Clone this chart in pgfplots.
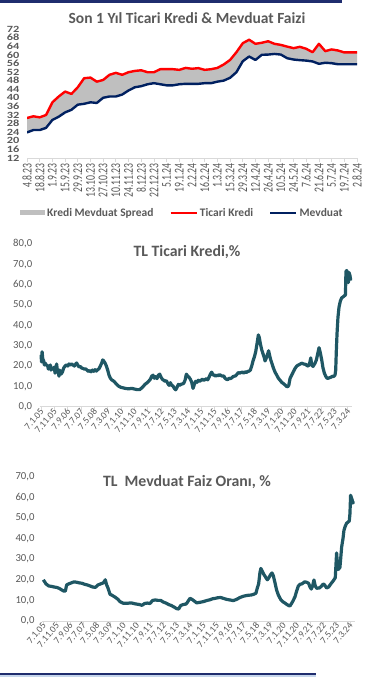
\documentclass[border=0pt]{standalone}
\usepackage{pgfplots}
\pgfplotsset{compat=1.18}
\usepackage{pgfplotstable}
\usepgfplotslibrary{fillbetween}
\usepackage{fontspec}
\setmainfont{Carlito}
\newfontfamily\wideCal[FakeStretch=1.3]{Carlito}
\newfontfamily\narrowCal[FakeStretch=0.72]{Carlito}
\definecolor{txt}{HTML}{595959}
\definecolor{tkred}{HTML}{FF0000}
\definecolor{navy}{HTML}{002060}
\definecolor{spread}{HTML}{BFBFBF}
\definecolor{tealline}{HTML}{1F5764}
\definecolor{axgray}{HTML}{D9D9D9}
\definecolor{barnavy}{HTML}{1F2D6E}
\definecolor{barlight}{HTML}{C6D6EC}

\pgfplotstableread{
i red blue
0 30.6 23.9
1 31.4 25.0
2 30.9 25.0
3 32.0 26.0
4 37.9 29.7
5 40.6 31.2
6 42.9 33.2
7 41.8 34.4
8 44.9 36.8
9 49.1 37.2
10 49.4 37.9
11 47.5 37.6
12 48.3 40.0
13 50.7 40.6
14 51.6 40.6
15 50.7 41.5
16 51.9 43.4
17 52.5 44.9
18 52.8 45.4
19 51.9 46.3
20 51.9 46.8
21 53.3 46.3
22 53.3 45.8
23 53.3 45.8
24 53.0 46.3
25 53.9 46.5
26 53.5 46.5
27 53.8 46.5
28 53.0 46.8
29 53.3 46.8
30 53.9 47.5
31 55.5 48.0
32 57.6 49.3
33 61.2 51.9
34 65.4 57.0
35 67.0 59.2
36 65.1 57.6
37 65.6 60.0
38 66.3 60.1
39 65.1 60.4
40 64.6 60.1
41 63.8 58.4
42 63.1 57.8
43 63.7 57.5
44 62.8 57.3
45 61.2 56.9
46 65.1 55.8
47 61.7 56.3
48 62.5 56.1
49 62.0 55.6
50 61.1 55.6
51 61.1 55.6
52 61.1 55.6
}\ratesA

\pgfplotstableread{
m v
0 25.5
0.4 22
0.8 27
1.3 23.5
2 22.5
2.5 20.5
3 21.5
4 20.5
5 20
5.5 18.5
6 19.5
7 20.5
7.5 18
8 19
9 18.5
10 19.5
10.5 16.5
11 18
11.7 21
12.3 17.5
13 16.5
13.5 15
14 18
15 16
16 17
17 19
18 20
19 20.5
20 20
21 21
22 20.5
23 21
24 20.5
25 20
26 21
26.7 21.5
27.5 20.5
28.5 19.5
29.5 19.8
30.5 19
31.5 18.8
32.5 18.5
33.5 18.6
34.5 18
35.5 17.3
36.5 17.8
37.5 17.2
38.5 18
39.5 17.4
40.5 18.2
41.5 17.5
42.5 18.2
43.5 18.7
44.5 20
45.5 21.5
46.3 23
47 22.5
48 21.5
49 20
50 18
51 15.5
52 14
53 13.2
54 12.8
55 12.3
56 11.5
57 10.8
58 10.2
59 9.8
60 9.5
62 9.2
64 8.9
66 8.8
68 9
70 8.7
72 8.4
74 8.4
76 9.5
78 11
80 12
82 13.5
83 15
84 15.5
85 14
86 14.8
87 13.8
88 15.5
89 16
90 14.5
91 13.5
92 13
93 12.5
94 12.8
95 11.5
96 10.5
97 11.8
98 10.5
99 10.2
100 9
101 8.3
102 9.5
103 11
104 10.5
105 11
106 11.2
107 11.5
108 13
109 16
110 15
111 14.5
112 13.5
113 12
114 9
115 11
116 12.5
117 12
118 13
119 12.5
120 13
121 13.5
122 13
123 13.3
124 13.8
125 13.2
126 14.5
127 16
128 17
129 15.5
130 15.6
131 15
132 15.5
133 15.2
134 15.8
135 15.3
136 15
137 15.2
138 14
139 13.5
140 13.3
141 14
142 13.8
143 14.2
144 14.8
145 15
146 15.2
147 16
148 16.8
149 16.5
150 16.8
151 17
152 16.5
153 17.2
154 16.8
155 17.3
156 17.5
157 18
158 20
159 22.5
160 24.5
161 27
162 31
163 35.3
163.7 34
164.5 31
165.5 28
166.5 26
167.5 24
168 22.5
169 24
170 26
170.7 27.5
171.5 25
172.3 23
173.3 21
174.3 19
175.5 17
176.8 15.5
178 14
179.3 13
180.5 12
181.5 11.5
183 10.7
184 10
185 9.8
185.8 10.5
186.8 14
188 15.5
189.3 17.3
190.5 18.8
191.8 20
193 20.5
194.5 21
195.5 21.4
197 21
198.5 20.8
199.5 20.2
200.5 20
201.5 21.5
202.3 24
203 20.5
204 19.8
205.5 21.4
206.5 23
207.5 26
208.5 29
209.3 27
210.5 23
211.5 19
212.5 16.5
213.5 15
214.5 14
215.5 14
216.5 14.3
217.5 14.5
218.5 15
219.5 14.8
220.5 15.6
221 18
221.5 28
222 36
222.7 44
223.5 49
224.5 52
225.5 53.5
226.5 54
227.5 54.5
228.3 55
228.7 66.5
229.3 67
230 65
230.5 61
231 66
231.7 64.5
232.3 62
}\ticari

\pgfplotstableread{
m v
0 20
1 19
2 18
3 17.5
4 17
6 16.8
8 16.5
10 16.3
12 15.8
14 15
15.5 14.5
16.5 14.5
17.5 17.5
19 18
21 18.5
23 19
25 18.8
27 18.5
29 18.3
31 17.8
33 17.5
35 17
37 16.5
39 16.3
41 17.5
43 18
45 18.5
46.5 20
47.5 17.5
48.5 16
50 13
52 12.3
54 11.5
56 10.5
57.5 9.4
60 8.6
63 8.6
66 8.8
69 8.3
72 8
74 7.6
76 8.5
78 8.7
80 8.5
82 10
84 10.2
86 10
88 10
90 9.2
92 8.7
94 8
96 7.5
98 6.8
100 6
101.5 5.8
103 7.5
105 8
107 8.2
108 9
110 11
111.5 10.5
113 9.8
115 8.8
117 9
120 9.4
123 10
125 10.3
127 10.8
129 11
131 11.3
133 11.4
135 11
137.5 10.5
140 10.2
142.5 9.9
145 10.5
147.5 11.4
150 12
152 12.3
154 12.5
156 12.6
158 13
159.5 13.5
160.5 16
161.5 18
162.5 23.5
163.2 25.5
164 24.5
165.5 22.5
167 21
168 20
169 20.8
170.5 22.5
171.5 23.3
172.5 22
173.8 18.5
175 15
176.3 12.6
178 10.5
179.5 9.4
181 8.8
182.5 8.1
184 7.5
185 7.3
186.3 8.6
187.5 10
188.8 11.8
190 14.5
191.3 17
192.5 17.8
194 18
196 19
197.5 18.8
199 18.3
200 16.5
201 15.5
202 17
203 19.9
204 17
205 15.9
207 16
208.5 16.8
210 18
211 17.5
212.5 16
214 16.5
216 18.3
217.5 19.5
219 21
220 33
220.7 27
221.3 25
222.5 26
223.8 36
224.8 40
225.5 44
226.5 46
227.5 47.4
229.5 48.5
230 52
230.5 61
231.3 59.5
232 58
233 56.8
}\mevduat

\pgfplotsset{
  bottomchart/.style={
    anchor=south west, scale only axis,
    xmin=-1,
    axis x line*=bottom, axis y line*=left,
    y axis line style={draw=none},
    x axis line style={draw=axgray, line width=0.8pt, -},
    tick align=outside, major tick length=4pt,
    xtick style={draw=axgray, line width=0.8pt}, ytick style={draw=none},
    xtick={0,10,...,230},
    xticklabels={7.1.05,7.11.05,7.9.06,7.7.07,7.5.08,7.3.09,7.1.10,7.11.10,7.9.11,7.7.12,7.5.13,7.3.14,7.1.15,7.11.15,7.9.16,7.7.17,7.5.18,7.3.19,7.1.20,7.11.20,7.9.21,7.7.22,7.5.23,7.3.24},
    xticklabel style={rotate=50, anchor=east, font=\fontsize{9.5}{9.5}\selectfont, text=txt, inner sep=0.5pt, xshift=2pt},
    /pgf/number format/assume math mode=true,
    yticklabel style={/pgf/number format/.cd, fixed, fixed zerofill, precision=1, use comma, /tikz/.cd, font=\fontsize{10.7}{10.7}\selectfont, text=txt},
  },
}

\begin{document}
\begin{tikzpicture}[x=1pt,y=1pt]
\path (0,0) rectangle (368,677);
% frame decorations
\fill[barnavy] (0,673.5) rectangle (342,677);
\fill[barlight] (0,0) rectangle (316,2);
\fill[barnavy] (0,2) rectangle (316,3.6);

% ---------- chart 1 ----------
\node[font=\bfseries\fontsize{15.5}{15.5}\selectfont, text=txt] at (187,659) {Son 1 Yıl Ticari Kredi \& Mevduat Faizi};
\begin{axis}[
  at={(27pt,519pt)}, anchor=south west, scale only axis,
  width=330pt, height=129pt,
  xmin=0, xmax=52, ymin=12, ymax=72,
  axis x line*=bottom, axis y line*=left,
  y axis line style={draw=none},
  x axis line style={draw=axgray, line width=0.8pt, -},
  tick align=outside, major tick length=4pt,
  xtick style={draw=axgray, line width=0.8pt}, ytick style={draw=none},
  ytick={12,16,...,72},
  xtick={0,2,...,52},
  xticklabels={4.8.23,18.8.23,1.9.23,15.9.23,29.9.23,13.10.23,27.10.23,10.11.23,24.11.23,8.12.23,22.12.23,5.1.24,19.1.24,2.2.24,16.2.24,1.3.24,15.3.24,29.3.24,12.4.24,26.4.24,10.5.24,24.5.24,7.6.24,21.6.24,5.7.24,19.7.24,2.8.24},
  xticklabel style={rotate=90, anchor=east, font=\narrowCal\fontsize{13.5}{13.5}\selectfont, text=txt, inner sep=1pt},
  /pgf/number format/assume math mode=true,
  yticklabel style={font=\wideCal\bfseries\fontsize{9.5}{9.5}\selectfont, text=txt},
  legend columns=3,
  legend style={at={(0.471,-0.426)}, anchor=center, draw=none, fill=none,
    font=\bfseries\fontsize{11.5}{11.5}\selectfont, text=txt,
    /tikz/every even column/.append style={column sep=14pt}},
]
\addplot[draw=none, forget plot, name path=A] table[x=i,y=red]{\ratesA};
\addplot[draw=none, forget plot, name path=B] table[x=i,y=blue]{\ratesA};
\addplot[fill=spread, draw=none,
  legend image code/.code={\fill[spread] (0pt,-2.5pt) rectangle (25pt,2.5pt);}]
  fill between[of=A and B];
\addplot[tkred, line width=2.4pt, line join=round,
  legend image code/.code={\draw[tkred, line width=2.4pt] (0pt,0pt) -- (26pt,0pt);}]
  table[x=i,y=red]{\ratesA};
\addplot[navy, line width=2.4pt, line join=round,
  legend image code/.code={\draw[navy, line width=2.4pt] (0pt,0pt) -- (26pt,0pt);}]
  table[x=i,y=blue]{\ratesA};
\legend{Kredi Mevduat Spread, Ticari Kredi, Mevduat}
\end{axis}

% ---------- chart 2 ----------
\node[font=\bfseries\fontsize{15.8}{15.8}\selectfont, text=txt] at (187,425) {TL Ticari Kredi,\%};
\begin{axis}[bottomchart,
  at={(39.7pt,270.3pt)}, width=312.4pt, height=162.7pt,
  xmax=233.3, ymin=0, ymax=80, ytick={0,10,...,80},
]
\addplot[tealline, line width=3.2pt, line join=round] table[x=m,y=v]{\ticari};
\end{axis}

% ---------- chart 3 ----------
\node[font=\bfseries\fontsize{15.8}{15.8}\selectfont, text=txt] at (187,195.3) {TL\ \ Mevduat Faiz Oranı, \%};
\begin{axis}[bottomchart,
  at={(42pt,56pt)}, width=312.6pt, height=144.3pt,
  xmax=233.5, ymin=0, ymax=70, ytick={0,10,...,70},
]
\addplot[tealline, line width=3.2pt, line join=round] table[x=m,y=v]{\mevduat};
\end{axis}
\end{tikzpicture}
\end{document}
